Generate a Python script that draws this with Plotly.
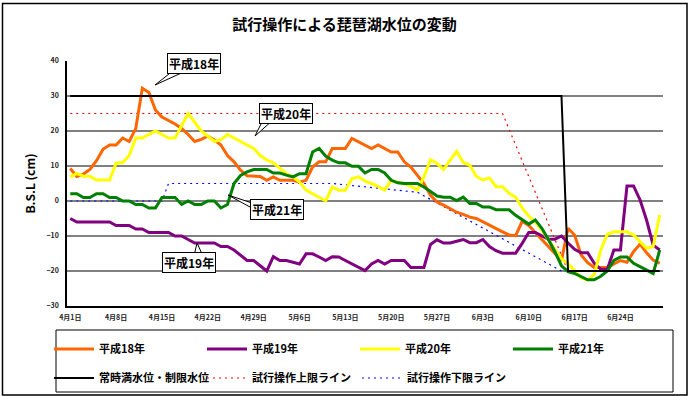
import pandas as pd
import plotly.graph_objects as go

FONT = "Noto Sans CJK JP"

# ---- data -------------------------------------------------------------
# daily lake level (cm, B.S.L) from April 1 to June 30
dates = pd.date_range("2009-04-01", "2009-06-30", freq="D")
day_labels = [f"{d.month}月{d.day}日" for d in dates]
days = list(range(len(dates)))
tick_days = days[::7]
tick_labels = day_labels[::7]

h18 = [9.3, 7, 7.7, 9, 11.5, 14.8, 16, 16, 18, 17,
       20.7, 32.2, 31, 26, 24, 23, 22, 20.7, 19, 17,
       17.6, 18.5, 17.4, 16, 13, 11.2, 8.8, 7.2, 7.2, 7,
       5.9, 6.9, 5.9, 5.9, 5.9, 5.4, 5.9, 9.7, 11.2, 11.2,
       15, 15, 15, 17.9, 16.9, 16, 15, 16, 15, 14,
       14, 11.2, 9.7, 7.4, 5, 1.6, -0.3, -1.2, -2.2, -3.2,
       -3.8, -4.6, -5, -6, -7, -7.8, -8.8, -9.7, -9.9, -5.8,
       -7, -9, -11, -13, -15, -17, -7.8, -9.7, -15.4, -17.6,
       -19, -19, -19, -18, -17, -17.5, -14.5, -12.3, -14.8, -16.9,
       -17.8]

h19 = [-5, -6, -6, -6, -6, -6, -6, -7, -7, -7,
       -8, -8, -9, -9, -9, -9, -10, -10, -11, -12,
       -12, -12, -12, -13, -13, -14, -15.5, -17, -17, -18.4,
       -20, -15.9, -17, -17, -17.5, -18, -15.1, -15.1, -16, -17,
       -15.9, -16, -17, -18, -19, -19.9, -18, -17, -18, -17,
       -17, -17, -19, -19, -19, -12.4, -11.1, -12, -12, -11.5,
       -11, -11.9, -11.9, -11, -13, -14.2, -14.9, -14.9, -14.9, -12.1,
       -9, -9, -9.9, -10.9, -10.9, -10, -12, -13.8, -14.8, -14.8,
       -17.8, -19.5, -19.5, -14, -14, 4.3, 4.3, 0.3, -5.5, -12.6,
       -14]

h20 = [6.9, 7.9, 7.1, 7.1, 6, 6, 6, 10.8, 11, 13,
       18, 18, 19, 20, 19, 18, 18, 21.5, 25, 22.5,
       20, 18.5, 17, 17.5, 19, 18, 17, 16, 15, 13,
       11.7, 10.9, 9.3, 7.8, 6.9, 5.4, 3.1, 2.1, 1.1, 0,
       4, 3.1, 3.1, 6.4, 6.9, 5.7, 5, 4.2, 3.1, 5.9,
       5.4, 5, 4.2, 3.1, 6.9, 11.8, 10.7, 9, 11.7, 14.2,
       11, 10.2, 7, 6, 6.6, 4.1, 4.1, 2.2, 1.1, -2,
       -4.3, -6, -8.3, -11, -14, -16.5, -18, -19.8, -22, -22.6,
       -21, -14, -9.5, -8.8, -8.8, -8.8, -9.7, -11.5, -13.5, -13,
       -4]

h21 = [2.1, 2.1, 1, 1, 2.1, 2.1, 1, 1, 0, 0,
       -1, -1, -2, -2, 1, 1, 1, -1, 0, -1,
       -1, 0, 0, -2, -1, 5, 7.3, 8.3, 9, 9,
       9, 8, 8, 7.4, 6.9, 7.8, 7.8, 14, 15, 12.8,
       11.7, 10.9, 10.9, 9.9, 9.9, 8, 9, 9, 8, 5.9,
       5.2, 5, 5, 5, 4, 2.8, 1.4, 1.1, 1.1, 0.1,
       1.1, -0.7, -0.7, -1.7, -1.7, -2.5, -2.5, -2.5, -4.1, -5.4,
       -6.6, -5.4, -7.8, -11, -14.5, -18.5, -20.2, -20.7, -21.5, -22.5,
       -22.5, -21.5, -20, -17, -16, -16, -17.8, -18.8, -19.8, -20.7,
       -14]

# reference lines (day index, level)
full_level_days = [0, 75, 76, 90]
full_level_vals = [30, 30, -20, -20]
upper_days = [0, 66, 76]
upper_vals = [25, 25, -20]
lower_days = [0, 14, 15, 40, 53, 75]
lower_vals = [0, 0, 5, 5, 2.5, -20]

yticks = [40, 30, 20, 10, 0, -10, -20, -30]

# ---- layout geometry (pixels) -----------------------------------------
W_PX, H_PX = 689, 396
L, T = 67, 61
PW, PH = 596, 245
X_RANGE = [-0.5, 90.5]
Y_RANGE = [-30, 40]


def pxx(px):
    return (px - L) / PW


def pxy(py):
    return (T + PH - py) / PH


series = [
    ("平成18年", h18, "#FF6600"),
    ("平成19年", h19, "#800080"),
    ("平成20年", h20, "#FFFF00"),
    ("平成21年", h21, "#008000"),
]

fig = go.Figure()

fig.add_trace(go.Scatter(x=lower_days, y=lower_vals, mode="lines",
                         name="試行操作下限ライン", legend="legend3",
                         line=dict(color="#0000FF", width=1.2, dash="2px,4px")))
fig.add_trace(go.Scatter(x=upper_days, y=upper_vals, mode="lines",
                         name="試行操作上限ライン", legend="legend2", legendrank=2,
                         line=dict(color="#FF0000", width=1.2, dash="2px,4px")))

for i, (name, vals, color) in enumerate(series):
    fig.add_trace(go.Scatter(x=days, y=vals, mode="lines", name=name,
                             legend="legend", legendrank=i + 1,
                             line=dict(color=color, width=3)))

fig.add_trace(go.Scatter(x=full_level_days, y=full_level_vals, mode="lines",
                         name="常時満水位・制限水位", legend="legend2", legendrank=1,
                         line=dict(color="#000000", width=2)))

tick_font = dict(family=FONT, size=7, color="#222222", weight="bold")

fig.update_xaxes(range=X_RANGE, tickvals=tick_days, ticktext=tick_labels,
                 showgrid=False, zeroline=False, showline=True,
                 linecolor="black", linewidth=1.5, ticks="",
                 tickfont=tick_font, ticklabelstandoff=4)
fig.update_yaxes(range=Y_RANGE, tickvals=yticks, showgrid=True,
                 gridcolor="#808080", gridwidth=1.5, zeroline=False,
                 showline=True, linecolor="black", linewidth=1.5, ticks="",
                 tickfont=tick_font, ticklabelstandoff=5,
                 title=dict(text="B.S.L (cm)", standoff=8,
                            font=dict(family=FONT, size=12, color="black",
                                      weight="bold")))

legend_font = dict(family=FONT, size=11, color="black", weight="bold")
legend_common = dict(orientation="h", xanchor="left", yanchor="middle",
                     entrywidthmode="pixels", itemwidth=40,
                     bgcolor="rgba(0,0,0,0)", borderwidth=0, font=legend_font)

shapes = [
    # chart frame
    dict(type="rect", xref="paper", yref="paper",
         x0=pxx(2.5), x1=pxx(687), y0=pxy(3.5), y1=pxy(395),
         line=dict(color="black", width=1.5), fillcolor="rgba(0,0,0,0)",
         layer="below"),
    # legend frame
    dict(type="rect", xref="paper", yref="paper",
         x0=pxx(56), x1=pxx(673), y0=pxy(330), y1=pxy(392),
         line=dict(color="black", width=1), fillcolor="rgba(0,0,0,0)"),
]

annotations = []
callouts = [
    # label, box centre, wedge base points, wedge tip (pixels)
    ("平成18年", (194, 63.5), [(174, 70), (188, 70)], (155, 85)),
    ("平成20年", (286, 113.5), [(263, 120), (273, 120)], (255, 136)),
    ("平成21年", (277, 209), [(252, 203), (250, 207)], (228, 195)),
    ("平成19年", (189, 262), [(194, 256), (203, 256)], (197, 243)),
]
for text, (cx, cy), base, tip in callouts:
    path = "M {} {} L {} {} L {} {} Z".format(
        pxx(tip[0]), pxy(tip[1]), pxx(base[0][0]), pxy(base[0][1]),
        pxx(base[1][0]), pxy(base[1][1]))
    shapes.append(dict(type="path", xref="paper", yref="paper", path=path,
                       fillcolor="white", line=dict(color="black", width=1)))
    annotations.append(dict(text=text, xref="paper", yref="paper",
                            x=pxx(cx), y=pxy(cy), xanchor="center",
                            yanchor="middle", showarrow=False,
                            bgcolor="white", bordercolor="black",
                            borderwidth=1, borderpad=1,
                            font=dict(family=FONT, size=12, color="black",
                                      weight="bold")))

fig.update_layout(
    width=W_PX, height=H_PX,
    margin=dict(l=L, r=W_PX - L - PW, t=T, b=H_PX - T - PH, autoexpand=False),
    paper_bgcolor="white", plot_bgcolor="white",
    title=dict(text="試行操作による琵琶湖水位の変動", xref="container",
               yref="container", x=0.5, y=1 - 25 / H_PX, xanchor="center",
               yanchor="middle",
               font=dict(family=FONT, size=15, color="black", weight="bold")),
    legend=dict(x=pxx(49), y=pxy(349), entrywidth=98, **legend_common),
    legend2=dict(x=pxx(49), y=pxy(378), entrywidth=98, **legend_common),
    legend3=dict(x=pxx(49 + 2 * 154), y=pxy(378), entrywidth=0,
                 **legend_common),
    shapes=shapes,
    annotations=annotations,
    font=dict(family=FONT),
)

fig.write_html("out.html")
